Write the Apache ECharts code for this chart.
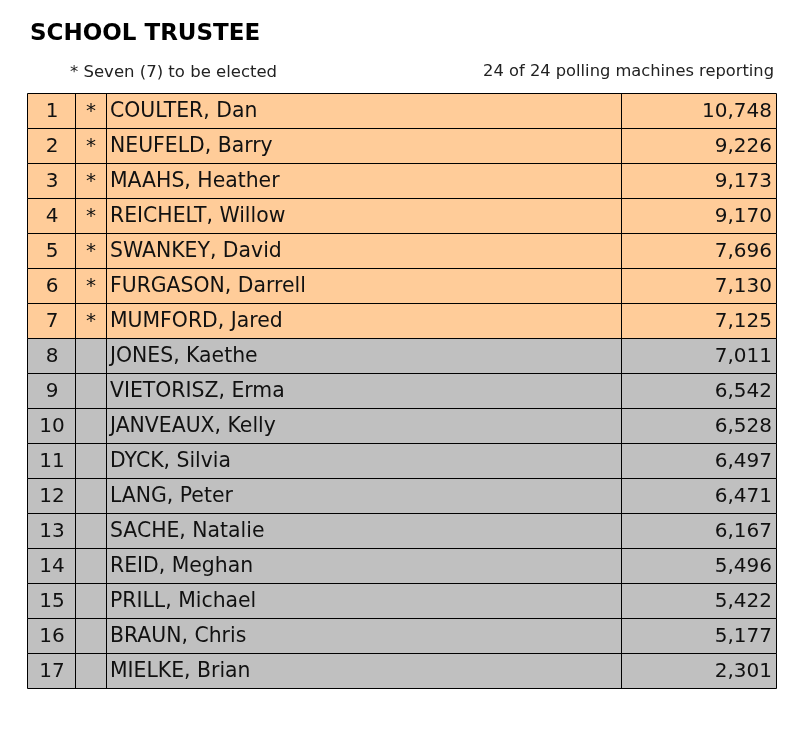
<!DOCTYPE html>
<html>
<head>
<meta charset="utf-8">
<script src="https://cdn.jsdelivr.net/npm/echarts@6/dist/echarts.min.js"></script>
<style>
html,body{margin:0;padding:0;background:#fff;}
#chart{width:803px;height:736px;}
</style>
</head>
<body>
<div id="chart"></div>
<script>
const titleText = 'SCHOOL TRUSTEE';
const noteText = '* Seven (7) to be elected';
const reportText = '24 of 24 polling machines reporting';
const ranks = [1,2,3,4,5,6,7,8,9,10,11,12,13,14,15,16,17];
const elected = [true,true,true,true,true,true,true,false,false,false,false,false,false,false,false,false,false];
const names = ['COULTER, Dan','NEUFELD, Barry','MAAHS, Heather','REICHELT, Willow','SWANKEY, David','FURGASON, Darrell','MUMFORD, Jared','JONES, Kaethe','VIETORISZ, Erma','JANVEAUX, Kelly','DYCK, Silvia','LANG, Peter','SACHE, Natalie','REID, Meghan','PRILL, Michael','BRAUN, Chris','MIELKE, Brian'];
const votes = [10748,9226,9173,9170,7696,7130,7125,7011,6542,6528,6497,6471,6167,5496,5422,5177,2301];

const FONT = '"DejaVu Sans", Verdana, sans-serif';
const colEdges = [0, 48, 79, 594, 749];
const electedFill = '#FFCC99';
const otherFill = '#C0C0C0';

const chart = echarts.init(document.getElementById('chart'), null, {renderer: 'canvas'});
const rows = ranks.map((r, i) => [i, r, elected[i] ? 1 : 0, names[i], votes[i]]);

function renderItem(params, api) {
  const i = api.value(0);
  const h = api.size([0, 1])[1];
  const c = api.coord([0, i]);
  const yTop = Math.floor(c[1] - h / 2) + 0.5;
  const yMid = c[1] + 1.5;
  const px = v => Math.floor(api.coord([v, i])[0]) + 0.5;
  const xL = px(colEdges[0]), xR = px(colEdges[4]);
  const isE = api.value(2) === 1;
  const children = [{
    type: 'rect',
    shape: {x: xL, y: yTop, width: xR - xL, height: Math.round(h)},
    style: {fill: isE ? electedFill : otherFill, stroke: '#000', lineWidth: 1}
  }];
  for (let k = 1; k < 4; k++) {
    const x = px(colEdges[k]);
    children.push({type: 'line', shape: {x1: x, y1: yTop, x2: x, y2: yTop + Math.round(h)}, style: {stroke: '#000', lineWidth: 1}});
  }
  const ts = {fontFamily: FONT, fontSize: 20, fill: '#111', textVerticalAlign: 'middle'};
  const cx1 = (api.coord([colEdges[0], i])[0] + api.coord([colEdges[1], i])[0]) / 2 + 1;
  const cx2 = (api.coord([colEdges[1], i])[0] + api.coord([colEdges[2], i])[0]) / 2 + 0.5;
  children.push({type: 'text', style: Object.assign({}, ts, {x: cx1, y: yMid, text: String(api.value(1)), textAlign: 'center'})});
  if (isE) children.push({type: 'text', style: Object.assign({}, ts, {x: cx2, y: yMid, text: '*', textAlign: 'center'})});
  children.push({type: 'text', style: Object.assign({}, ts, {x: api.coord([colEdges[2], i])[0] + 4, y: yMid, text: names[i], textAlign: 'left', fontSize: 20.4})});
  children.push({type: 'text', style: Object.assign({}, ts, {x: api.coord([colEdges[4], i])[0] - 4, y: yMid, text: votes[i].toLocaleString('en-US'), textAlign: 'right'})});
  return {type: 'group', children: children};
}

chart.setOption({
  animation: false,
  backgroundColor: '#fff',
  grid: {left: 27, top: 93, width: 749, height: 595},
  xAxis: {type: 'value', min: 0, max: 749, show: false},
  yAxis: {type: 'category', data: ranks.map(String), inverse: true, show: false},
  graphic: [
    {type: 'text', left: 30, top: 23, style: {text: titleText, font: 'bold 23px ' + FONT, fill: '#000'}},
    {type: 'text', left: 70, top: 64, style: {text: noteText, font: '16.5px ' + FONT, fill: '#222'}},
    {type: 'text', right: 29, top: 64, style: {text: reportText, font: '16.3px ' + FONT, fill: '#222'}}
  ],
  series: [{
    type: 'custom',
    renderItem: renderItem,
    data: rows,
    encode: {x: -1, y: 0}
  }]
});
</script>
</body>
</html>
